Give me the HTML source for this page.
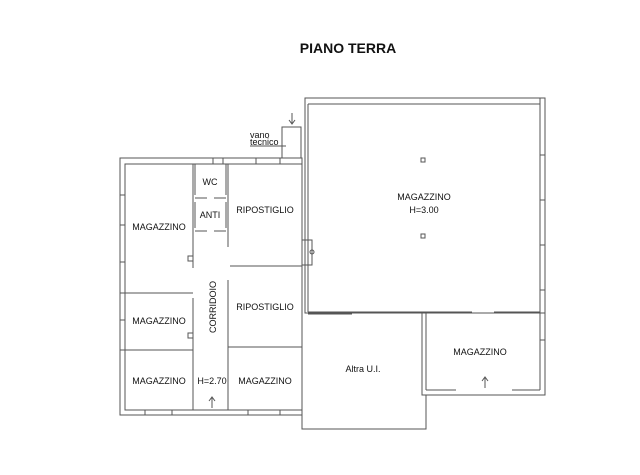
<!DOCTYPE html>
<html><head><style>body{margin:0;background:#fff}svg{display:block}text{font-family:"Liberation Sans",sans-serif;fill:#111}</style></head><body>
<svg width="640" height="475" viewBox="0 0 640 475" xmlns="http://www.w3.org/2000/svg">
<rect width="640" height="475" fill="#fff"/>
<text x="348" y="53" font-size="14" font-weight="bold" text-anchor="middle">PIANO TERRA</text>
<g fill="none" stroke="#555" stroke-width="1">
<rect x="305" y="98" width="240" height="215"/>
<path d="M308 104 H540 V390 M540 104 V98"/>
<path d="M308 104 V312"/>
<path d="M545 98 V395 H422 V312"/>
<path d="M426 390 H456 M512 390 H540 M426 312 V390"/>
<path d="M308 312 H472 M494 312 H540"/>
<path d="M308 314 H352"/>
<path d="M302 312 V429 H426 V395"/>
<path d="M540 155 H545 M540 200 H545 M540 245 H545 M540 290 H545 M540 340 H545"/>
<rect x="120" y="158" width="182" height="257"/>
<rect x="125" y="164" width="177" height="246"/>
<path d="M193 164 V268 M193 298 V410 M228 164 V247 M228 280 V410"/>
<path d="M195 164 V195 M226 164 V195 M195 202 V228 M226 202 V228"/>
<path d="M195 198 H207 M214 198 H226 M195 231 H207 M214 231 H226"/>
<path d="M125 293 H193 M125 350 H193 M230 266 H302 M228 347 H302"/>
<path d="M120 195 H125 M120 225 H125 M120 262 H125 M120 293 H125 M120 320 H125 M120 350 H125"/>
<path d="M145 410 V415 M172 410 V415 M248 410 V415 M280 410 V415 M213 158 V164 M223 158 V164 M256 158 V164 M280 158 V164"/>
<rect x="188" y="256" width="5" height="5"/>
<rect x="188" y="333" width="5" height="5"/>
<rect x="302" y="240" width="10" height="25"/>
<circle cx="312" cy="252" r="2"/>
<path d="M282 158 V127 H301 V158"/>
<path d="M250 146 H286"/>
<path d="M292 113 V123 M289 120 L292 124 L295 120"/>
<path d="M212 408 V398 M209 401 L212 397 L215 401"/>
<path d="M485 388 V378 M482 381 L485 377 L488 381"/>
<rect x="421" y="158" width="4" height="4"/>
<rect x="421" y="234" width="4" height="4"/>
</g>
<g font-size="9">
<text x="250" y="138">vano</text>
<text x="250" y="145">tecnico</text>
<text x="210" y="185" text-anchor="middle">WC</text>
<text x="210" y="218" text-anchor="middle">ANTI</text>
<text x="265" y="213" text-anchor="middle">RIPOSTIGLIO</text>
<text x="265" y="310" text-anchor="middle">RIPOSTIGLIO</text>
<text x="159" y="230" text-anchor="middle">MAGAZZINO</text>
<text x="159" y="324" text-anchor="middle">MAGAZZINO</text>
<text x="159" y="384" text-anchor="middle">MAGAZZINO</text>
<text x="265" y="384" text-anchor="middle">MAGAZZINO</text>
<text x="212" y="384" text-anchor="middle">H=2.70</text>
<text transform="translate(216,307) rotate(-90)" text-anchor="middle">CORRIDOIO</text>
<text x="424" y="200" text-anchor="middle">MAGAZZINO</text>
<text x="424" y="213" text-anchor="middle">H=3.00</text>
<text x="480" y="355" text-anchor="middle">MAGAZZINO</text>
<text x="363" y="372" text-anchor="middle">Altra U.I.</text>
</g>
</svg>
</body></html>
